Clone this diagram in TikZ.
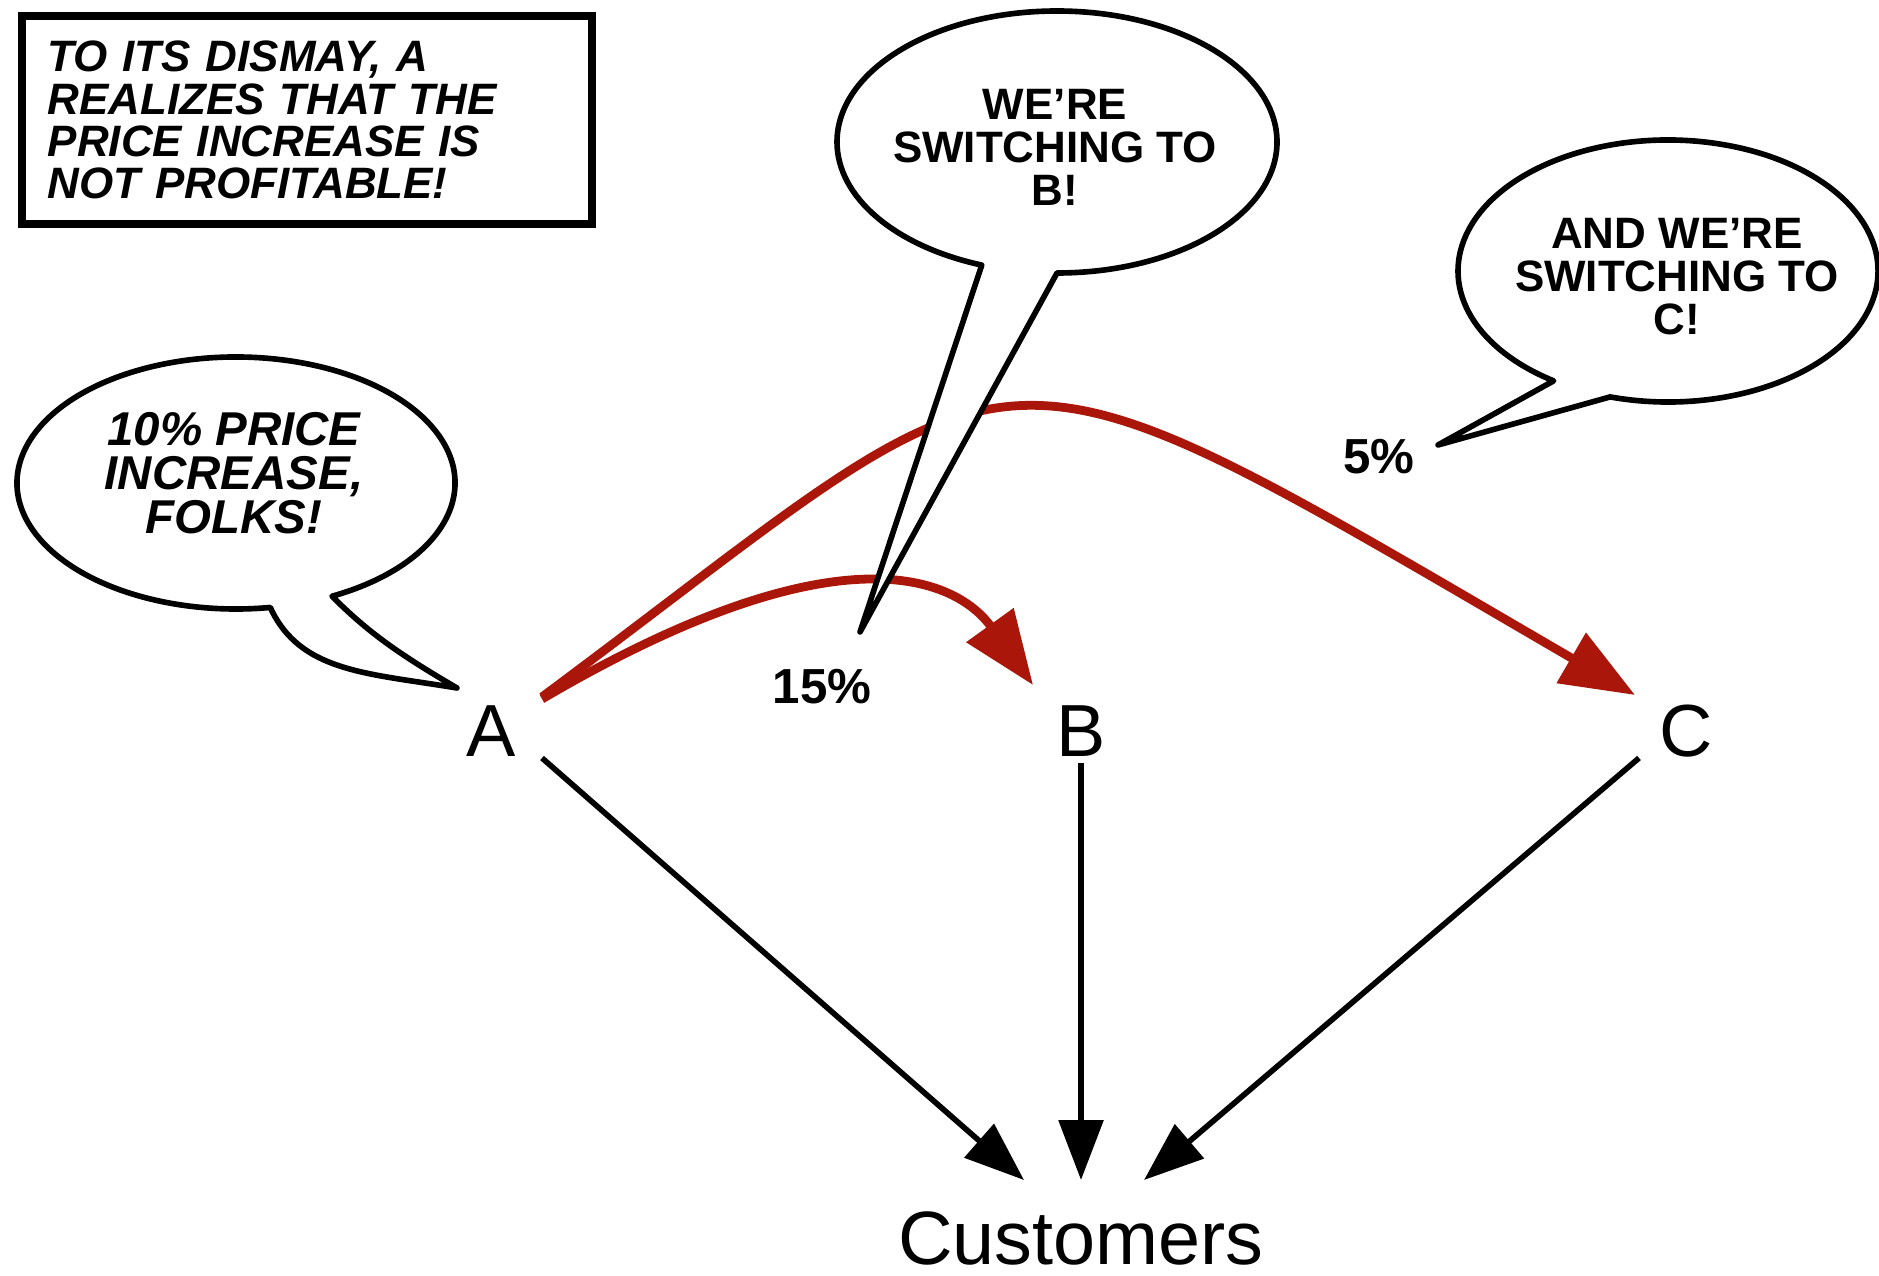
\documentclass[tikz,border=0pt]{standalone}
\usepackage{fontspec}
\setmainfont{Liberation Sans}
\usetikzlibrary{arrows.meta,calc}
\definecolor{shiftred}{RGB}{170,22,10}
\tikzset{
  firm/.style={font=\fontsize{21}{25}\selectfont, inner sep=2pt},
  market/.style={font=\fontsize{21.5}{25}\selectfont, inner sep=0pt},
  flow/.style={draw=black, line width=1.6pt, -{Triangle[length=17pt,width=12.5pt]}},
  defect/.style={draw=shiftred, line width=2.5pt, -{Triangle[length=21pt,width=16pt]}},
  share/.style={font=\bfseries\fontsize{14}{16}\selectfont, inner sep=0pt},
  bubble/.style={draw=black, fill=white, line width=1.6pt, line join=round},
  speech/.style={font=\bfseries\fontsize{12.5}{12.2}\selectfont, align=center, inner sep=0pt},
  shout/.style={font=\bfseries\itshape\fontsize{13.5}{12.5}\selectfont, align=center, inner sep=0pt},
  notebox/.style={draw=black, line width=2.2pt, minimum width=5.7cm, minimum height=2.08cm,
    inner xsep=0.26cm, text width=5.18cm, align=left,
    font=\bfseries\itshape\fontsize{12.5}{12}\selectfont}
}
\begin{document}
\begin{tikzpicture}[x=0.01cm, y=0.01cm]
\useasboundingbox (0,0) rectangle (1879,1275);

% firms and the customers they sell to
\node[firm] (A) at (491,544) {A};
\node[firm] (B) at (1081,544) {B};
\node[firm] (C) at (1686,544) {C};
\node[market] (Cust) at (1081,37) {Customers};

\draw[flow] ($(A)+(51,-27)$) -- ($(Cust)+(-57,58)$);
\draw[flow] ($(B)+(0,-32)$) -- ($(Cust)+(0,58)$);
\draw[flow] ($(C)+(-47,-27)$) -- ($(Cust)+(63,58)$);

% customers leaving A after the price rise
\draw[defect] ($(A)+(51,34)$) .. controls +(500,372) and +(-670,390) .. ($(C)+(-51,36)$);
\draw[defect] ($(A)+(51,32)$) .. controls +(310,182) and +(-72,100) .. ($(B)+(-48,46)$);

\node[share] (p15) at (822,588) {15\%};
\node[share] (p5) at (1379,818) {5\%};

% speech bubble of A
\coordinate (cS) at (236,792);
\coordinate (sR) at ($(cS)+(296:219 and 126)$);
\coordinate (sTip) at (457,587);
\draw[bubble] (sR) arc[start angle=296, end angle=639, x radius=219, y radius=126]
  .. controls +(30,-65) and +(-90,15) .. (sTip)
  .. controls +(-60,35) and +(35,-35) .. (sR) -- cycle;
\node[shout] (tS) at (234,802) {10\% PRICE\\INCREASE,\\FOLKS!};

% speech bubble of the customers moving to B
\coordinate (cB) at (1057,1133);
\coordinate (bR) at ($(cB)+(270:220 and 131)$);
\draw[bubble] (bR) arc[start angle=270, end angle=610, x radius=220, y radius=131]
  -- (860,643) -- cycle;
\node[speech] (tB) at (1055,1128) {WE’RE\\SWITCHING TO\\B!};

% speech bubble of the customers moving to C
\coordinate (cC) at (1668,1004);
\coordinate (kR) at ($(cC)+(254:210 and 131)$);
\draw[bubble] (kR) arc[start angle=254, end angle=597, x radius=210, y radius=131]
  -- (1438,830) -- cycle;
\node[speech] (tC) at (1677,998) {AND WE’RE\\SWITCHING TO\\C!};

% narration box
\node[notebox] (note) at (307,1155) {TO ITS DISMAY, A\\REALIZES THAT THE\\PRICE INCREASE IS\\NOT PROFITABLE!};
\end{tikzpicture}
\end{document}
